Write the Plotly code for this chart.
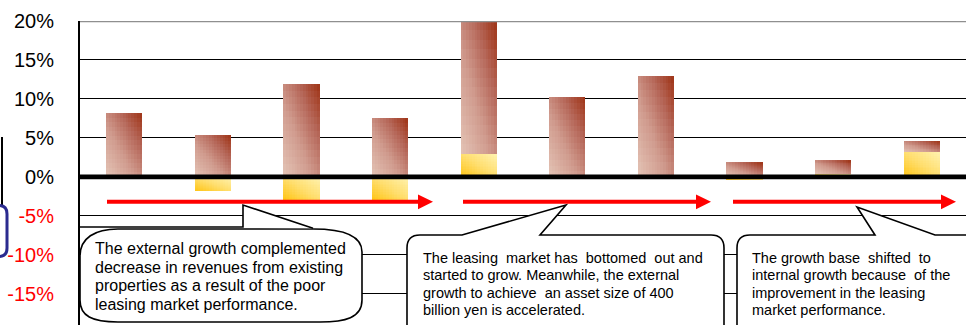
import plotly.graph_objects as go

# ---- data -------------------------------------------------------------
periods = list(range(1, 11))                       # fiscal periods (unlabelled on the axis)
external_growth = [8.2, 5.35, 11.9, 7.5, 17.0, 10.2, 13.0, 1.9, 1.7, 1.4]
existing_properties = [0.0, -1.7, -2.9, -2.9, 3.0, 0.0, 0.0, -0.35, 0.45, 3.2]

tick_values = [20, 15, 10, 5, 0, -5, -10, -15]
tick_labels = ["20%", "15%", "10%", "5%", "0%", "-5%", "-10%", "-15%"]

callout_texts = [
    ["The external growth complemented",
     "decrease in revenues from existing",
     "properties as a result of the poor",
     "leasing market performance."],
    ["The leasing  market has  bottomed  out and",
     "started to grow. Meanwhile, the external",
     "growth to achieve  an asset size of 400",
     "billion yen is accelerated."],
    ["The growth base  shifted  to",
     "internal growth because  of the",
     "improvement in the leasing",
     "market performance."],
]

# ---- page geometry ----------------------------------------------------
FIG_W, FIG_H = 966, 325
ML, MR, MT, MB = 80, 0, 21, 0
PW, PH = FIG_W - ML - MR, FIG_H - MT - MB
Y_RANGE = [-19.0, 20.0]
BAR_W = 0.41
NCOL, NROW = 13, 14

FONT = "Arial, Liberation Sans, sans-serif"


def px(x, y):
    """pixel position on the page -> paper coordinates"""
    return (x - ML) / PW, 1 - (y - MT) / PH


def path(points, close=True):
    d = ""
    for cmd, *pts in points:
        coords = " ".join(f"{px(a, b)[0]:.5f},{px(a, b)[1]:.5f}" for a, b in zip(pts[0::2], pts[1::2]))
        d += f"{cmd} {coords} "
    return d + ("Z" if close else "")


def mix(stops, t):
    for (t0, c0), (t1, c1) in zip(stops, stops[1:]):
        if t <= t1:
            f = (t - t0) / (t1 - t0)
            return "rgb({},{},{})".format(*[round(a + (b - a) * f) for a, b in zip(c0, c1)])
    return "rgb({},{},{})".format(*stops[-1][1])


BROWN = [(0.0, (228, 196, 182)), (0.4, (208, 155, 142)), (0.7, (182, 104, 90)), (1.0, (158, 50, 20))]
GOLD = [(0.0, (255, 196, 20)), (0.5, (255, 222, 110)), (1.0, (255, 242, 175))]

fig = go.Figure()


def gradient_bars(bottoms, heights, stops):
    """a bar per period, filled with a diagonal gradient built from slices"""
    for i in range(NCOL):
        for k in range(NROW):
            t = ((i + 0.5) / NCOL + (k + 0.5) / NROW) / 2
            fig.add_bar(
                x=list(range(len(periods))),
                y=[h / NROW for h in heights],
                base=[b + h * k / NROW for b, h in zip(bottoms, heights)],
                width=BAR_W / NCOL,
                offset=-BAR_W / 2 + i * BAR_W / NCOL,
                marker=dict(color=mix(stops, t), line=dict(width=0)),
                hoverinfo="skip",
                showlegend=False,
            )


# existing properties (yellow), from zero up or down
gold_bottom = [min(0.0, v) for v in existing_properties]
gold_height = [abs(v) for v in existing_properties]
gradient_bars(gold_bottom, gold_height, GOLD)

# external growth (brown), stacked on any positive yellow part
brown_bottom = [max(0.0, v) for v in existing_properties]
gradient_bars(brown_bottom, external_growth, BROWN)

shapes = []

# top border and heavy zero line
shapes.append(dict(type="line", xref="paper", yref="y", x0=0, x1=1, y0=20, y1=20,
                   line=dict(color="#8f8f8f", width=2.5), layer="above"))
shapes.append(dict(type="line", xref="paper", yref="y", x0=0, x1=1, y0=0, y1=0,
                   line=dict(color="black", width=4.6), layer="above"))

# callout bubbles
bubble_line = dict(color="black", width=1.6)
shapes.append(dict(type="path", xref="paper", yref="paper", layer="above",
                   fillcolor="white", line=bubble_line,
                   path=path([("M", 80, 256), ("C", 80, 238, 95, 229, 118, 229),
                              ("L", 313, 229),
                              ("C", 345, 229, 362, 236, 362, 252),
                              ("L", 362, 300),
                              ("C", 362, 318, 345, 322, 320, 322),
                              ("L", 118, 322),
                              ("C", 92, 322, 80, 316, 80, 300)])))
shapes.append(dict(type="path", xref="paper", yref="paper", layer="above",
                   fillcolor="white", line=bubble_line,
                   path=path([("M", 80, 227), ("L", 243, 227), ("L", 243, 205), ("L", 313, 228.2)],
                             close=False)))
shapes.append(dict(type="path", xref="paper", yref="paper", layer="above",
                   fillcolor="white", line=bubble_line,
                   path=path([("M", 407, 340), ("L", 407, 248), ("Q", 407, 235, 420, 235),
                              ("L", 462, 235), ("L", 566, 205), ("L", 540, 235),
                              ("L", 711, 235), ("Q", 724, 235, 724, 248), ("L", 724, 340)])))
shapes.append(dict(type="path", xref="paper", yref="paper", layer="above",
                   fillcolor="white", line=bubble_line,
                   path=path([("M", 737, 340), ("L", 737, 248), ("Q", 737, 235, 750, 235),
                              ("L", 875, 235), ("L", 857, 207), ("L", 935, 235),
                              ("L", 995, 235), ("L", 995, 340)])))

# red trend arrows
for x_start, x_tip in [(107, 433), (463, 711), (733, 956)]:
    x0, y0 = px(x_start, 201.8)
    x1, _ = px(x_tip - 14, 201.8)
    shapes.append(dict(type="line", xref="paper", yref="paper", x0=x0, x1=x1, y0=y0, y1=y0,
                       line=dict(color="#ff0000", width=4), layer="above"))
    shapes.append(dict(type="path", xref="paper", yref="paper", layer="above",
                       fillcolor="#ff0000", line=dict(width=0),
                       path=path([("M", x_tip, 201.8), ("L", x_tip - 15, 194.4),
                                  ("L", x_tip - 15, 209.2)])))

# partial frame at the far left
shapes.append(dict(type="path", xref="paper", yref="paper", layer="above",
                   line=dict(color="black", width=2),
                   path=path([("M", 2, 137), ("L", 2, 206)], close=False)))
shapes.append(dict(type="path", xref="paper", yref="paper", layer="above",
                   line=dict(color="#2b2b8f", width=3),
                   path=path([("M", -12, 205.5), ("L", -1, 205.5), ("Q", 7, 205.5, 7, 214),
                              ("L", 7, 248), ("Q", 7, 256.5, -1, 256.5), ("L", -12, 256.5)],
                             close=False)))

# callout text
annotations = []
text_layout = [
    (93, [248, 267, 285.5, 304], 16),
    (421, [258, 275, 292.5, 310], 14.5),
    (750, [258, 275, 292.5, 310], 14.5),
]
for (x_left, ys, size), lines in zip(text_layout, callout_texts):
    for y, line in zip(ys, lines):
        ax, ay = px(x_left, y)
        annotations.append(dict(x=ax, y=ay, xref="paper", yref="paper", text=line,
                                showarrow=False, xanchor="left", yanchor="middle",
                                font=dict(family=FONT, size=size, color="black")))

ticktext = [lab if v >= 0 else f'<span style="color:#ff0000">{lab}</span>'
            for v, lab in zip(tick_values, tick_labels)]

fig.update_layout(
    width=FIG_W, height=FIG_H,
    margin=dict(l=ML, r=MR, t=MT, b=MB, pad=0),
    paper_bgcolor="white", plot_bgcolor="white",
    barmode="overlay", bargap=0, bargroupgap=0,
    showlegend=False,
    shapes=shapes,
    annotations=annotations,
    xaxis=dict(range=[-0.5, 9.5], showgrid=False, zeroline=False, showline=False,
               showticklabels=False, ticks="", fixedrange=True),
    yaxis=dict(range=Y_RANGE, tickvals=tick_values, ticktext=ticktext,
               showgrid=True, gridcolor="black", gridwidth=1.4,
               zeroline=False, showline=True, linecolor="black", linewidth=2,
               ticks="", ticklabelstandoff=20,
               tickfont=dict(family=FONT, size=20, color="black"), fixedrange=True),
)

fig.write_html("out.html")
